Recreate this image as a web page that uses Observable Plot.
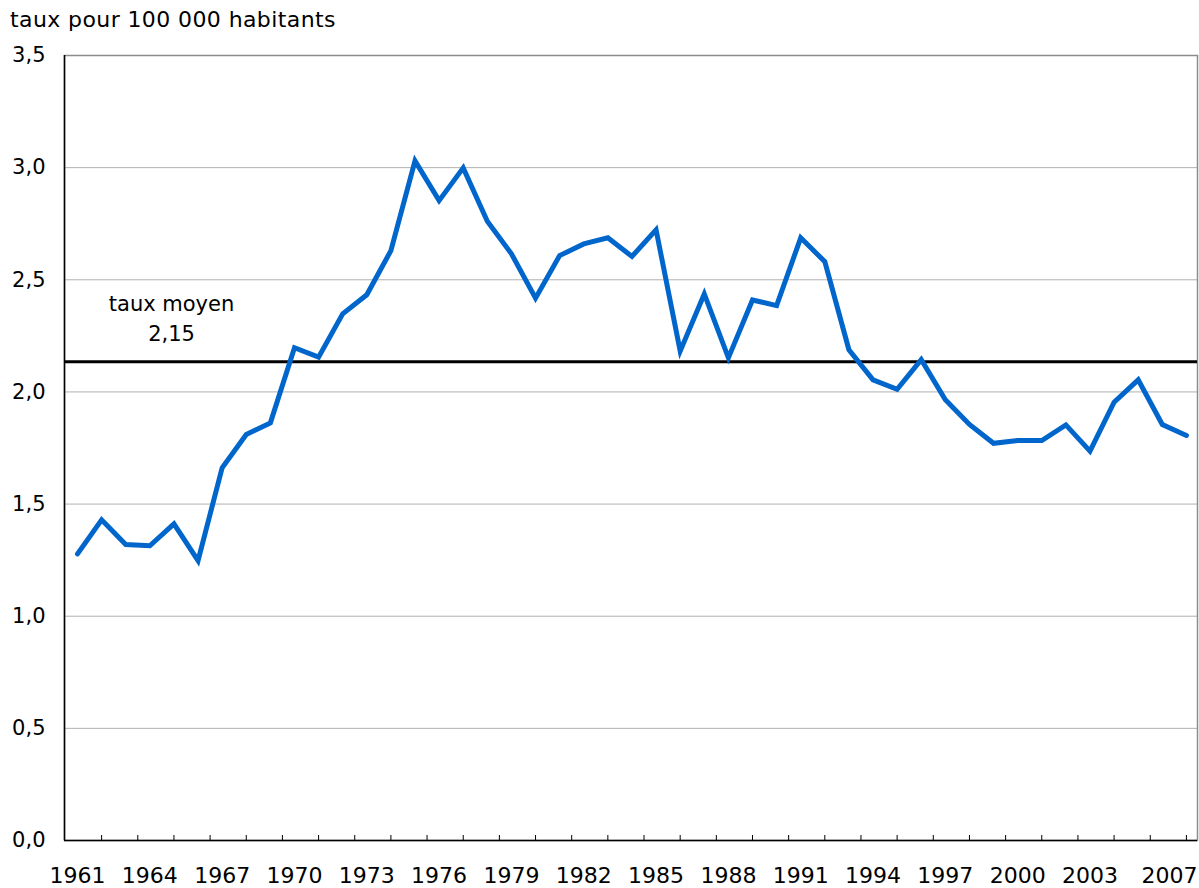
<!DOCTYPE html>
<html>
<head>
<meta charset="utf-8">
<script src="https://cdn.jsdelivr.net/npm/d3@7"></script>
<script src="https://cdn.jsdelivr.net/npm/@observablehq/plot@0.6"></script>
<style>
  body { margin: 0; background: #fff; font-family: "DejaVu Sans", sans-serif; }
  #title { height: 34px; padding-top: 2px; padding-left: 10px; font-size: 22px; letter-spacing: 0.4px; line-height: 36px; color: #000; }
</style>
</head>
<body>
<div id="title">taux pour 100 000 habitants</div>
<div id="chart"></div>
<script>
const years = [1961,1962,1963,1964,1965,1966,1967,1968,1969,1970,1971,1972,1973,1974,1975,1976,1977,1978,1979,1980,1981,1982,1983,1984,1985,1986,1987,1988,1989,1990,1991,1992,1993,1994,1995,1996,1997,1998,1999,2000,2001,2002,2003,2004,2005,2006,2007];
const rates = [1.278,1.43,1.32,1.314,1.412,1.248,1.662,1.81,1.862,2.197,2.155,2.348,2.433,2.63,3.03,2.853,2.999,2.761,2.616,2.418,2.608,2.66,2.687,2.604,2.723,2.182,2.437,2.152,2.41,2.385,2.687,2.581,2.188,2.054,2.012,2.144,1.965,1.855,1.771,1.783,1.783,1.853,1.736,1.954,2.054,1.855,1.806];
const meanRate = 2.135;
const meanLabel = "taux moyen\n2,15";
const meanLabelYear = 1964.9;
const yTicks = [0, 0.5, 1.0, 1.5, 2.0, 2.5, 3.0, 3.5];
const gridValues = [0.5, 1.0, 1.5, 2.0, 2.5, 3.0];
const xLabelYears = [1961,1964,1967,1970,1973,1976,1979,1982,1985,1988,1991,1994,1997,2000,2003];
const xLastLabel = [2007];
const xTickMarks = [1962,1963.5,1965,1966.5,1968,1969.5,1971,1972.5,1974,1975.5,1977,1978.5,1980,1981.5,1983,1984.5,1986,1987.5,1989,1990.5,1992,1993.5,1995,1996.5,1998,1999.5,2001,2002.5,2004,2005.5,2007];
const xDomain = [1960.46, 2007.46];

const data = years.map((y, i) => ({year: y, rate: rates[i]}));

const W = 1199, H = 852, mt = 19, mb = 48, ml = 64, mr = 2;
const plotH = H - mt - mb;

const chart = Plot.plot({
  width: W,
  height: H,
  marginTop: mt,
  marginBottom: mb,
  marginLeft: ml,
  marginRight: mr,
  style: {fontFamily: "DejaVu Sans, sans-serif", fontSize: "21px", color: "#000", background: "#fff"},
  x: {type: "linear", domain: xDomain, label: null},
  y: {domain: [0, 3.5], label: null},
  marks: [
    Plot.ruleY(gridValues, {stroke: "#b0b0b0", strokeWidth: 1}),
    Plot.frame({stroke: "#8c8c8c", strokeWidth: 1.5}),
    Plot.ruleX([xDomain[0]], {stroke: "#000", strokeWidth: 1.5}),
    Plot.ruleY([0], {stroke: "#000", strokeWidth: 1.5}),
    Plot.tickX(xTickMarks, {x: d => d, stroke: "#000", strokeWidth: 1, insetTop: plotH - 5}),
    Plot.axisY({ticks: yTicks, tickSize: 0, tickPadding: 19, label: null, tickFormat: d => d.toFixed(1).replace(".", ","), fontSize: 21}),
    Plot.axisX({ticks: xLabelYears, tickSize: 0, tickPadding: 27, label: null, tickFormat: d => String(d), fontSize: 22}),
    Plot.text(xLastLabel, {x: d => d, frameAnchor: "bottom", text: d => String(d), textAnchor: "end", dx: 11, dy: 27, lineAnchor: "top", fontSize: 22}),
    Plot.ruleY([meanRate], {stroke: "#000", strokeWidth: 3}),
    Plot.text([meanLabel], {x: () => meanLabelYear, y: () => meanRate, text: d => d, lineAnchor: "bottom", lineHeight: 1.43, dy: -21, fontSize: 21, fill: "#000", style: "letter-spacing: 1px"}),
    Plot.line(data, {x: "year", y: "rate", stroke: "#0066cc", strokeWidth: 5, strokeLinejoin: "miter", strokeMiterlimit: 4})
  ]
});
document.getElementById("chart").appendChild(chart);
</script>
</body>
</html>
